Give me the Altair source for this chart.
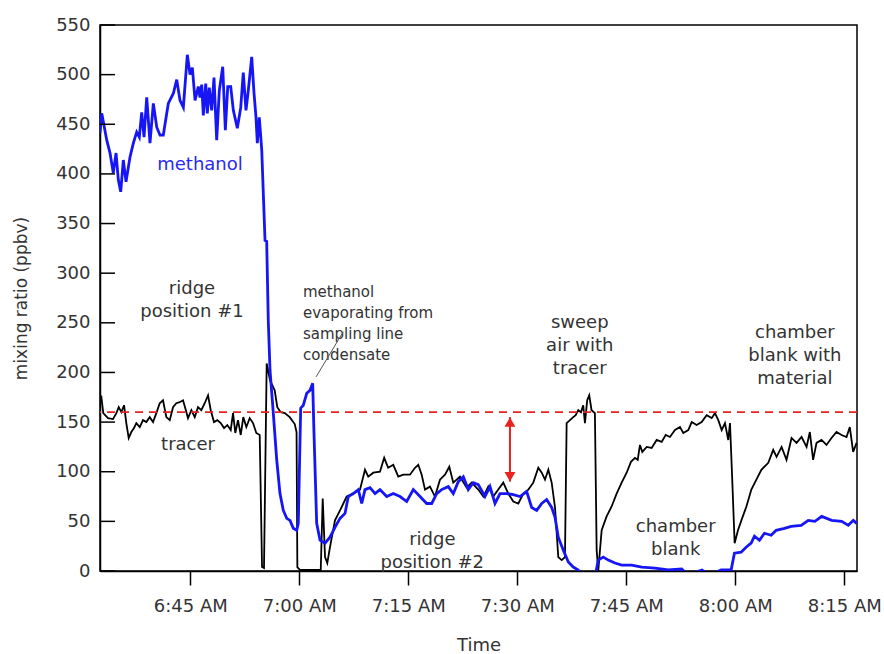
import altair as alt
import pandas as pd

# time axis: minutes after 06:00
methanol_t = [32.57, 32.81, 33.50, 33.95, 34.40, 34.78, 35.09, 35.42, 35.78, 36.15, 36.70, 37.16, 37.62, 37.98,
              38.31, 38.63, 39.00, 39.45, 39.91, 40.38, 40.83, 41.28, 41.97, 42.66, 43.13, 43.58, 44.04, 44.59,
              44.96, 45.28, 45.65, 46.10, 46.33, 46.57, 46.79, 47.12, 47.34, 47.61, 47.94, 48.26, 48.63, 48.99,
              49.46, 49.82, 50.15, 50.56, 50.92, 51.47, 51.94, 52.29, 52.66, 52.98, 53.45, 53.77, 54.04, 54.22,
              54.49, 54.83, 55.28, 55.51, 55.73, 55.97, 56.42, 56.89, 57.34, 57.80, 58.27, 58.72, 59.17, 59.64,
              59.86, 60.19, 60.55, 61.02, 61.47, 61.84, 62.02, 62.39, 62.85, 63.54, 64.22, 64.91, 65.60, 66.29,
              66.74, 67.43, 68.12, 68.59, 69.04, 69.73, 70.42, 71.10, 72.03, 72.93, 73.86, 74.78, 75.69, 76.61,
              77.53, 78.22, 78.91, 79.59, 80.50, 81.19, 81.88, 82.57, 83.25, 83.94, 84.63, 85.55, 86.24, 86.93,
              87.62, 88.54, 89.45, 90.37, 91.29, 91.98, 92.67, 93.36, 94.04, 94.73, 95.19, 95.64, 96.33, 97.02,
              97.70, 98.39, 99.04, 100.69, 101.14, 101.83, 102.52, 103.44, 104.36, 105.74, 107.12, 108.95, 110.78,
              112.62, 113.49, 115.41, 116.50, 118.05, 119.43, 119.88, 120.80, 121.49, 122.18, 122.64, 123.33,
              124.01, 124.94, 125.63, 126.77, 127.69, 129.07, 130.04, 130.96, 131.89, 133.26, 134.64, 135.55,
              136.24, 136.70]
methanol_v = [441, 461, 434, 421, 401, 421, 394, 382, 414, 392, 417, 431, 442, 437,
              462, 437, 477, 431, 471, 447, 439, 439, 471, 481, 495, 474, 467, 520,
              500, 507, 474, 488, 477, 490, 459, 491, 461, 487, 464, 497, 434, 484,
              508, 444, 488, 488, 464, 446, 467, 502, 464, 484, 518, 481, 457, 431,
              457, 424, 333, 332, 252, 202, 159, 112, 78, 61, 53, 51, 43, 41,
              48, 164, 167, 179, 182, 189, 139, 48, 31, 28, 34, 44, 53, 58,
              75, 78, 82, 68, 82, 84, 78, 82, 75, 78, 75, 70, 82, 75,
              68, 68, 78, 82, 85, 78, 90, 95, 82, 89, 87, 75, 85, 68,
              78, 78, 77, 75, 80, 64, 61, 68, 72, 64, 54, 34, 21, 9,
              4, 1, -6, -6, 11, 14, 11, 8, 6, 6, 4, 3, 1,
              2, -4, 1, -4, 1, 1, 18, 19, 24, 28, 35, 31,
              38, 36, 41, 43, 45, 46, 51, 50, 55, 51, 50, 46,
              51, 48]

tracer_t = [32.57, 32.75, 33.02, 33.67, 34.36, 34.82, 35.15, 35.51, 35.88, 36.19, 36.52, 36.88, 37.25, 37.57,
            38.04, 38.49, 38.95, 39.41, 39.87, 40.32, 40.79, 41.24, 41.70, 42.17, 42.62, 43.07, 43.54, 44.00,
            44.31, 44.68, 45.14, 45.61, 46.06, 46.51, 46.98, 47.44, 47.81, 48.26, 48.72, 49.18, 49.64, 50.09,
            50.56, 50.88, 51.19, 51.56, 51.94, 52.29, 52.71, 53.17, 53.63, 54.08, 54.55, 54.87, 55.14, 55.51,
            55.97, 56.61, 56.97, 57.44, 57.99, 58.68, 59.37, 59.62, 59.73, 60.10, 62.61, 62.95, 63.22, 63.54,
            63.85, 64.22, 64.91, 65.60, 66.52, 67.43, 68.35, 69.04, 69.49, 70.18, 71.10, 71.68, 72.23, 72.93,
            73.62, 74.31, 75.23, 75.92, 76.37, 76.84, 77.30, 77.98, 78.67, 79.36, 80.05, 80.64, 81.19, 82.11,
            83.03, 83.72, 84.63, 85.32, 86.01, 86.70, 87.38, 88.07, 88.76, 89.45, 90.14, 90.83, 91.52, 92.20,
            92.89, 93.36, 93.81, 94.27, 94.73, 95.19, 95.64, 96.11, 96.56, 96.79, 97.25, 97.70, 98.03, 98.39,
            98.76, 99.07, 99.31, 99.62, 99.90, 100.22, 100.68, 100.92, 101.14, 101.61, 102.29, 102.98, 103.67,
            104.36, 105.05, 105.64, 106.19, 106.57, 106.88, 107.20, 107.81, 108.49, 109.18, 109.87, 110.42,
            111.01, 111.70, 112.39, 112.84, 113.53, 114.00, 114.68, 115.37, 116.06, 116.75, 117.20, 117.66,
            118.13, 118.58, 119.03, 119.27, 119.58, 119.91, 120.37, 120.84, 121.53, 122.21, 122.90, 123.59,
            124.54, 125.22, 125.68, 126.37, 127.05, 127.74, 128.43, 129.12, 129.81, 130.26, 130.71, 131.18,
            131.87, 132.55, 133.24, 133.93, 134.62, 135.31, 135.76, 136.22, 136.69]
tracer_v = [176, 176, 159, 154, 153, 159, 165, 160, 167, 149, 134, 140, 144, 149,
            145, 152, 150, 155, 150, 159, 169, 172, 155, 152, 165, 169, 170, 172,
            164, 154, 162, 155, 165, 162, 169, 177, 162, 150, 152, 149, 144, 147,
            142, 159, 139, 152, 137, 155, 145, 154, 149, 139, 137, 4, 3, 209,
            192, 182, 165, 160, 159, 155, 148, 140, 4, 1, 1, 1, 73, 14,
            8, 24, 51, 61, 75, 78, 82, 102, 95, 99, 100, 114, 104, 107,
            95, 97, 97, 104, 107, 97, 82, 85, 75, 92, 97, 105, 89, 95,
            84, 89, 82, 75, 85, 75, 82, 89, 78, 70, 68, 78, 82, 89,
            104, 99, 92, 102, 89, 64, 14, 11, 14, 149, 152, 155, 157, 162,
            160, 167, 149, 172, 177, 162, 159, 21, 0, 41, 55, 65, 78,
            89, 99, 110, 114, 112, 127, 120, 125, 124, 132, 130, 137,
            135, 142, 145, 139, 142, 150, 147, 150, 157, 154, 159, 152,
            142, 149, 132, 149, 92, 28, 41, 51, 65, 82, 92, 102,
            109, 122, 115, 125, 112, 134, 129, 135, 125, 140, 112, 129,
            132, 127, 134, 140, 137, 135, 145, 120, 129]

x_tick_values = [45, 60, 75, 90, 105, 120, 135]
y_tick_values = [0, 50, 100, 150, 200, 250, 300, 350, 400, 450, 500, 550]
reference_level = [160]
arrow_t = [88.99]
arrow_top = [155]
arrow_bottom = [90]

big_labels = ["ridge\nposition #1", "tracer", "ridge\nposition #2", "sweep\nair with\ntracer",
              "chamber\nblank", "chamber\nblank with\nmaterial"]
big_label_t = [45.23, 44.68, 78.3, 98.6, 111.8, 128.2]
big_label_v = [284, 127, 31, 250, 44, 240]

methanol_label = ["methanol"]
methanol_label_t = [46.33]
methanol_label_v = [409]

note_label = ["methanol\nevaporating from\nsampling line\ncondensate"]
note_t = [60.5]
note_v = [281.5]
leader_t1, leader_v1 = [66.05], [241]
leader_t2, leader_v2 = [62.30], [195.5]

FONT = "DejaVu Sans"
TXT = "#333333"
X_DOMAIN = [32.57, 136.75]

xs = alt.Scale(domain=X_DOMAIN, nice=False, zero=False)
ys = alt.Scale(domain=[0, 550], nice=False, zero=False)

tracer_df = pd.DataFrame({"t": tracer_t, "v": tracer_v})
meth_df = pd.DataFrame({"t": methanol_t, "v": methanol_v})

label_expr = ("(floor(datum.value/60)+6) + ':' + (datum.value%60 < 10 ? '0' : '') + "
              "(datum.value%60) + ' AM'")

X_AXIS = alt.Axis(
    values=x_tick_values, labelExpr=label_expr, title="Time", tickSize=14, tickWidth=1.5,
    tickColor="black", labelPadding=12, labelFontSize=18, labelFont=FONT, labelColor=TXT,
    titleFont=FONT, titleFontSize=18, titleColor=TXT, titleFontWeight="normal",
    titleY=74, titleBaseline="middle", grid=False, domainColor="black", domainWidth=1.5)
Y_AXIS = alt.Axis(
    values=y_tick_values, ticks=False, labelPadding=10, labelFontSize=18, labelFont=FONT,
    labelColor=TXT, title="mixing ratio (ppbv)", titleFont=FONT, titleFontSize=17,
    titleColor=TXT, titleFontWeight="normal", titleX=-79, titleY=273, titleAlign="center",
    titleBaseline="middle", titleAngle=-90, grid=False, domainColor="black", domainWidth=1.5)


def X(field):
    return alt.X(field, scale=xs, axis=X_AXIS, title="Time")


def Y(field):
    return alt.Y(field, scale=ys, axis=Y_AXIS, title="mixing ratio (ppbv)")


tracer_line = alt.Chart(tracer_df).mark_line(color="black", strokeWidth=1.8, clip=True).encode(
    x=X("t:Q"), y=Y("v:Q"))

meth_line = alt.Chart(meth_df).mark_line(color="#1515f5", strokeWidth=2.8, clip=True).encode(
    x=X("t:Q"), y=Y("v:Q"))

ref_rule = alt.Chart(pd.DataFrame({"v": reference_level})).mark_rule(
    color="#e8231f", strokeWidth=1.8, strokeDash=[8, 6]).encode(y=Y("v:Q"))

ytick_layer = alt.Chart(pd.DataFrame({"v": y_tick_values})).mark_rule(
    color="black", strokeWidth=1.5).encode(y=Y("v:Q"), x=alt.value(0), x2=alt.value(15))

arrow_df = pd.DataFrame({"t": arrow_t, "top": arrow_top, "bottom": arrow_bottom})
arrow_rule = alt.Chart(arrow_df).mark_rule(color="#e8231f", strokeWidth=2).encode(
    x=X("t:Q"), y=Y("top:Q"), y2="bottom:Q")
arrow_up = alt.Chart(arrow_df).mark_point(shape="triangle-up", filled=True, size=120,
                                          color="#e8231f", opacity=1, yOffset=5).encode(
    x=X("t:Q"), y=Y("top:Q"))
arrow_down = alt.Chart(arrow_df).mark_point(shape="triangle-down", filled=True, size=120,
                                            color="#e8231f", opacity=1, yOffset=-5).encode(
    x=X("t:Q"), y=Y("bottom:Q"))

big_text = alt.Chart(pd.DataFrame({"label": big_labels, "t": big_label_t, "v": big_label_v})).mark_text(
    font=FONT, fontSize=18, color=TXT, lineBreak="\n", lineHeight=23, align="center",
    baseline="middle").encode(x=X("t:Q"), y=Y("v:Q"), text="label:N")

meth_text = alt.Chart(pd.DataFrame({"label": methanol_label, "t": methanol_label_t,
                                    "v": methanol_label_v})).mark_text(
    font=FONT, fontSize=18, color="#2a2aee", align="center", baseline="middle").encode(
    x=X("t:Q"), y=Y("v:Q"), text="label:N")

note_text = alt.Chart(pd.DataFrame({"label": note_label, "t": note_t, "v": note_v})).mark_text(
    font=FONT, fontSize=15, color=TXT, lineBreak="\n", lineHeight=21, align="left",
    baseline="middle").encode(x=X("t:Q"), y=Y("v:Q"), text="label:N")

leader = alt.Chart(pd.DataFrame({"t1": leader_t1, "v1": leader_v1, "t2": leader_t2,
                                 "v2": leader_v2})).mark_rule(color="#555555", strokeWidth=1).encode(
    x=X("t1:Q"), x2="t2:Q", y=Y("v1:Q"), y2="v2:Q")

chart = alt.layer(
    tracer_line, ref_rule, meth_line, ytick_layer, arrow_rule, arrow_up, arrow_down,
    big_text, meth_text, note_text, leader
).properties(
    width=757, height=546,
    padding={"left": 100, "top": 25, "right": 27, "bottom": 83},
    autosize=alt.AutoSizeParams(type="none"),
    background="white",
).configure_view(stroke="black", strokeWidth=1.5)

chart.save("out.html", embed_options={"renderer": "svg", "actions": False})
